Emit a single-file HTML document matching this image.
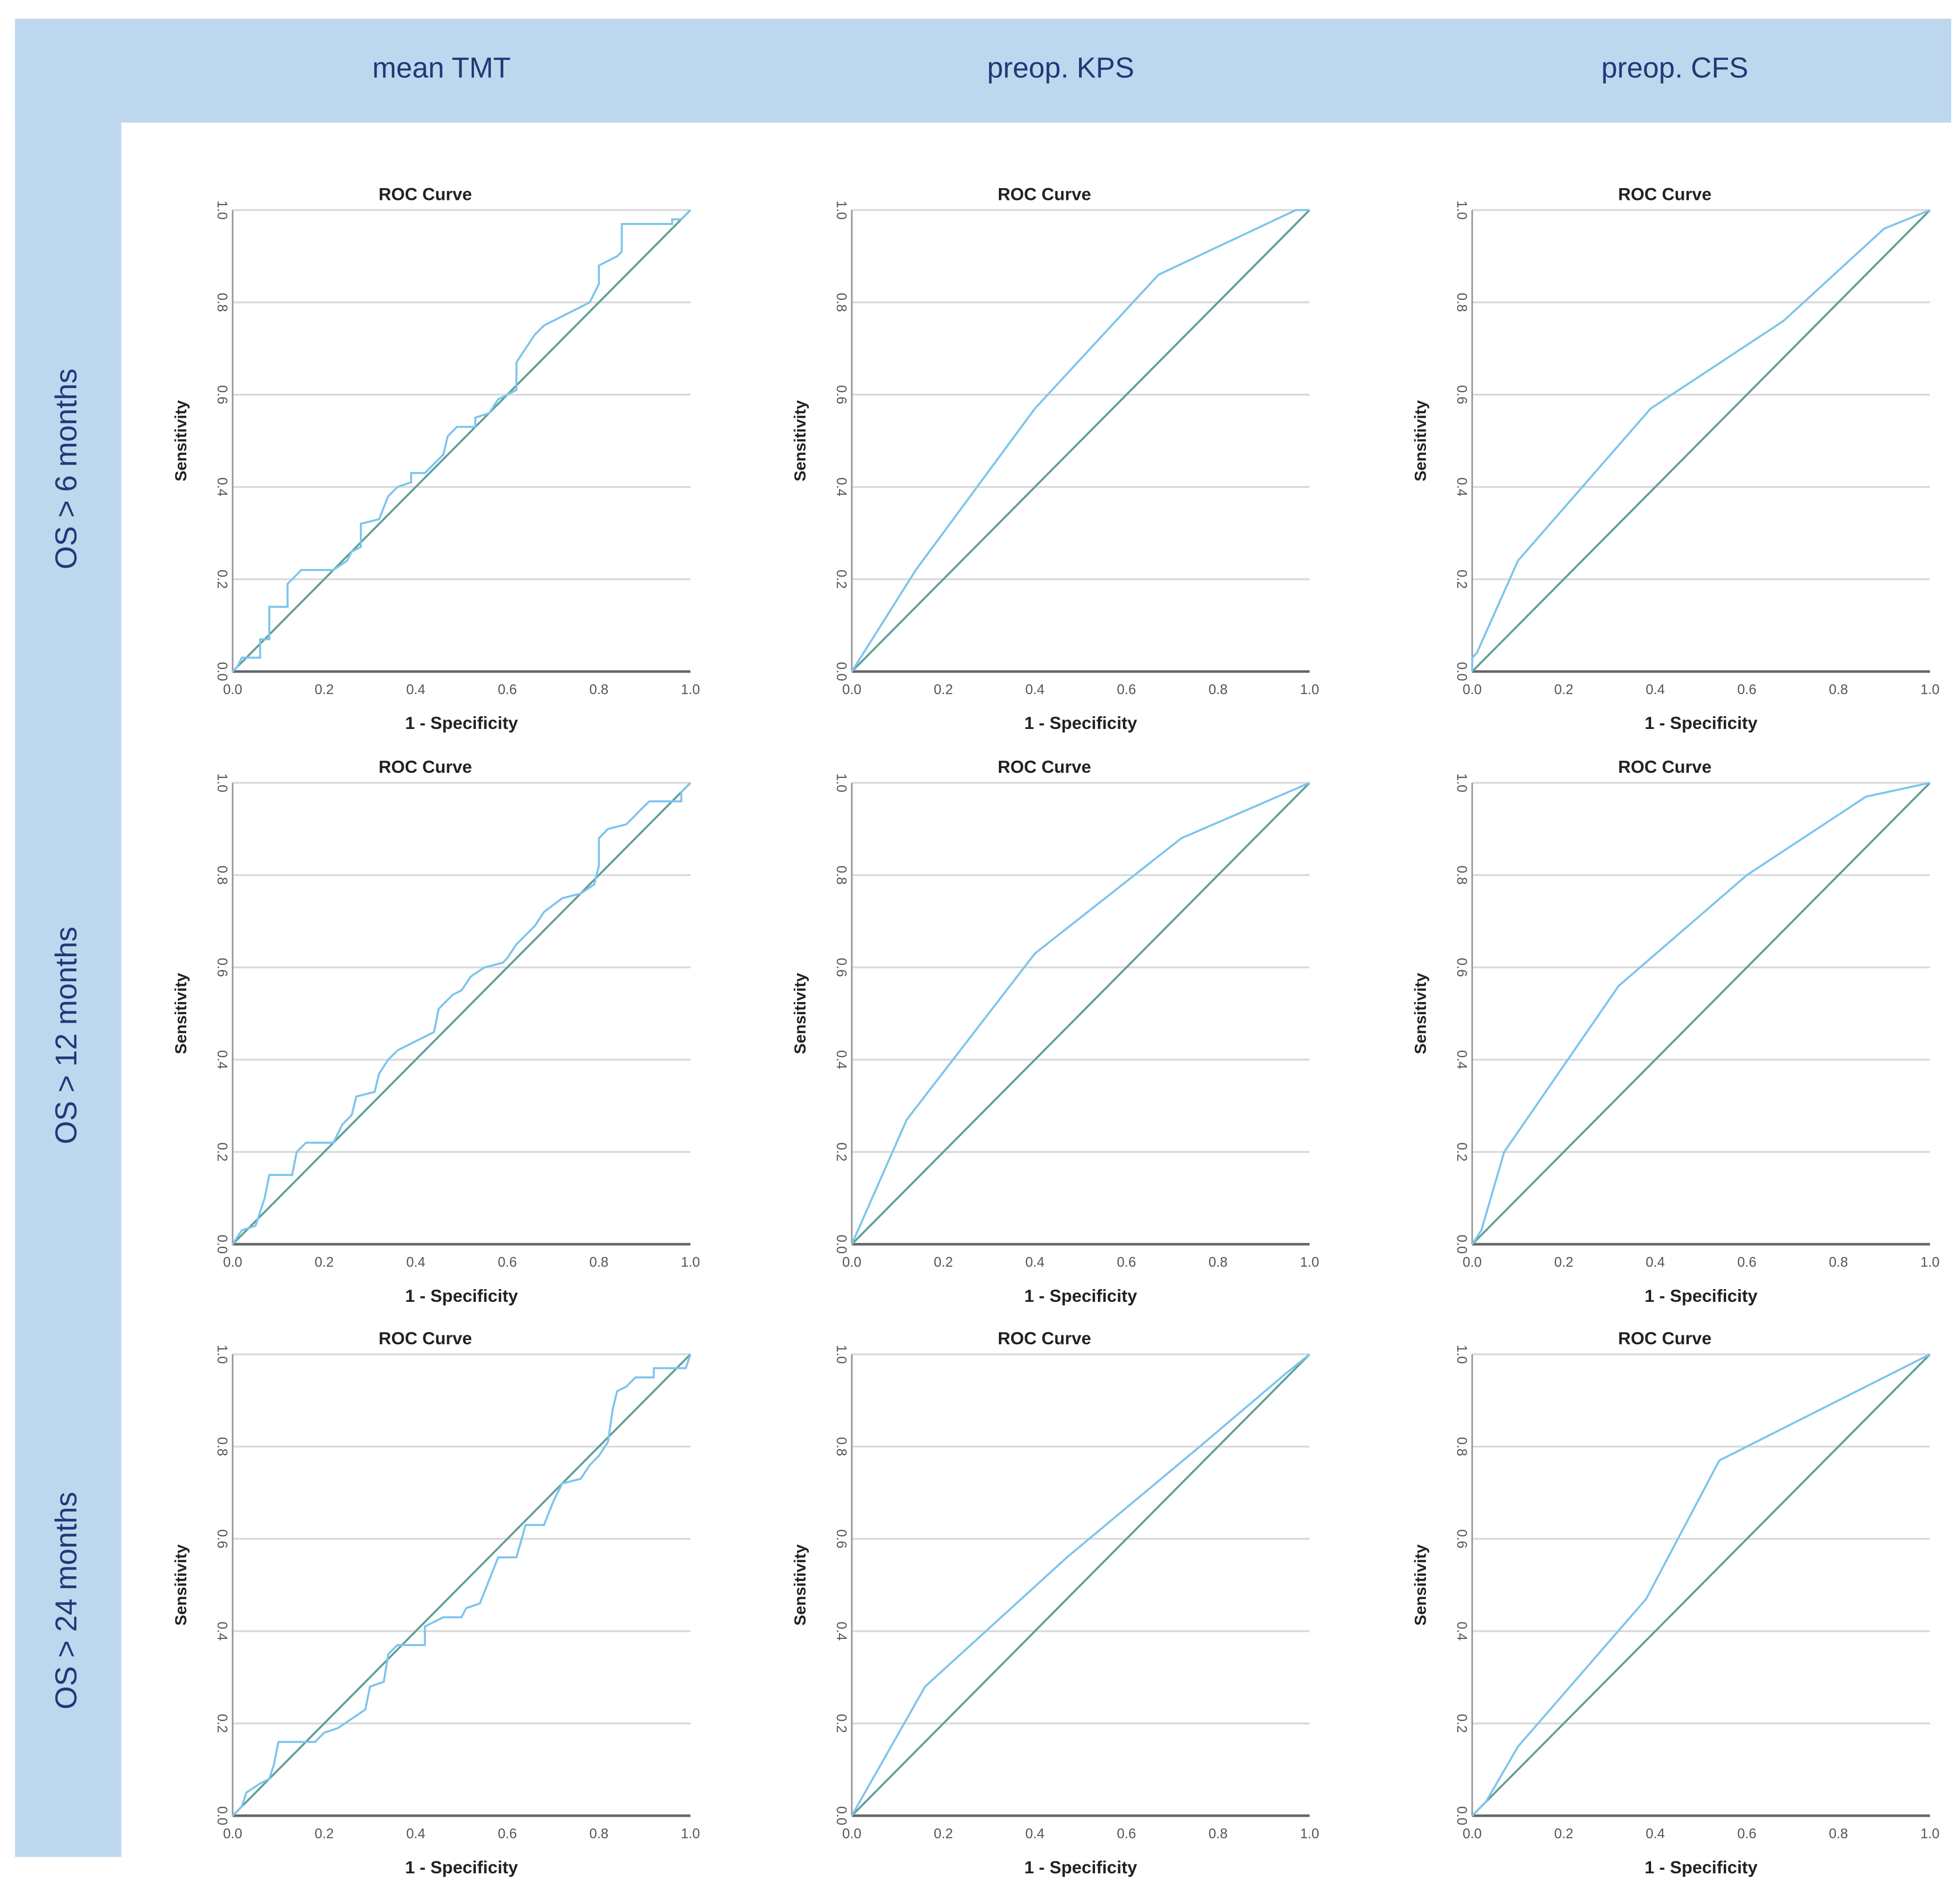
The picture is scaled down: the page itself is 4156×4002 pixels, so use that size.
<!DOCTYPE html>
<html><head><meta charset="utf-8"><style>
html,body{margin:0;padding:0;background:#fff;}
svg{display:block;}
text{font-family:"Liberation Sans",sans-serif;}
</style></head><body>
<svg id="fig" width="4156" height="4002" viewBox="0 0 1567 1509" preserveAspectRatio="none" xmlns="http://www.w3.org/2000/svg">
<rect x="0" y="0" width="1567" height="1509" fill="#ffffff"/>
<rect x="12" y="15" width="1548" height="83" fill="#bdd7ee"/>
<rect x="12" y="15" width="85" height="1470" fill="#bdd7ee"/>
<text x="353" y="62" font-size="23" fill="#1f3a78" text-anchor="middle">mean TMT</text>
<text x="848" y="62" font-size="23" fill="#1f3a78" text-anchor="middle">preop. KPS</text>
<text x="1339" y="62" font-size="23" fill="#1f3a78" text-anchor="middle">preop. CFS</text>
<text transform="translate(61,375) rotate(-90)" font-size="24" fill="#1f3a78" text-anchor="middle">OS &gt; 6 months</text>
<text transform="translate(61,828) rotate(-90)" font-size="24" fill="#1f3a78" text-anchor="middle">OS &gt; 12 months</text>
<text transform="translate(61,1280) rotate(-90)" font-size="24" fill="#1f3a78" text-anchor="middle">OS &gt; 24 months</text>
<g id="plots"></g>
</svg>
<script>
const ticks = [0, 0.2, 0.4, 0.6, 0.8, 1.0];
const tickLabels = ["0.0", "0.2", "0.4", "0.6", "0.8", "1.0"];
const tmt6x = [0,0.01,0.02,0.06,0.06,0.08,0.08,0.12,0.12,0.13,0.15,0.22,0.25,0.26,0.28,0.28,0.32,0.34,0.36,0.39,0.39,0.42,0.46,0.47,0.49,0.53,0.53,0.56,0.58,0.62,0.62,0.64,0.66,0.68,0.72,0.76,0.78,0.8,0.8,0.82,0.84,0.85,0.85,0.96,0.96,0.98,1];
const tmt6y = [0,0.01,0.03,0.03,0.07,0.07,0.14,0.14,0.19,0.2,0.22,0.22,0.24,0.26,0.27,0.32,0.33,0.38,0.4,0.41,0.43,0.43,0.47,0.51,0.53,0.53,0.55,0.56,0.59,0.61,0.67,0.7,0.73,0.75,0.77,0.79,0.8,0.84,0.88,0.89,0.9,0.91,0.97,0.97,0.98,0.98,1];
const tmt12x = [0,0.02,0.05,0.07,0.08,0.13,0.14,0.16,0.22,0.24,0.26,0.27,0.31,0.32,0.34,0.36,0.38,0.42,0.44,0.45,0.48,0.5,0.52,0.55,0.59,0.6,0.62,0.66,0.68,0.72,0.76,0.79,0.8,0.8,0.82,0.86,0.89,0.91,0.98,0.98,1];
const tmt12y = [0,0.03,0.04,0.1,0.15,0.15,0.2,0.22,0.22,0.26,0.28,0.32,0.33,0.37,0.4,0.42,0.43,0.45,0.46,0.51,0.54,0.55,0.58,0.6,0.61,0.62,0.65,0.69,0.72,0.75,0.76,0.78,0.82,0.88,0.9,0.91,0.94,0.96,0.96,0.98,1];
const tmt24x = [0,0.02,0.03,0.06,0.08,0.09,0.1,0.18,0.2,0.23,0.26,0.29,0.3,0.33,0.34,0.36,0.42,0.42,0.46,0.5,0.51,0.54,0.56,0.58,0.62,0.64,0.68,0.7,0.72,0.76,0.78,0.8,0.82,0.83,0.84,0.86,0.88,0.92,0.92,0.99,1];
const tmt24y = [0,0.02,0.05,0.07,0.08,0.11,0.16,0.16,0.18,0.19,0.21,0.23,0.28,0.29,0.35,0.37,0.37,0.41,0.43,0.43,0.45,0.46,0.51,0.56,0.56,0.63,0.63,0.68,0.72,0.73,0.76,0.78,0.81,0.88,0.92,0.93,0.95,0.95,0.97,0.97,1];
const kps6x = [0,0.14,0.4,0.67,0.97,1];
const kps6y = [0,0.22,0.57,0.86,1,1];
const kps12x = [0,0.12,0.4,0.72,1];
const kps12y = [0,0.27,0.63,0.88,1];
const kps24x = [0,0.16,0.47,0.76,0.95,1];
const kps24y = [0,0.28,0.56,0.8,0.96,1];
const cfs6x = [0,0,0.01,0.1,0.39,0.68,0.9,1];
const cfs6y = [0,0.03,0.04,0.24,0.57,0.76,0.96,1];
const cfs12x = [0,0.02,0.07,0.32,0.6,0.86,1];
const cfs12y = [0,0.03,0.2,0.56,0.8,0.97,1];
const cfs24x = [0,0.02,0.03,0.1,0.38,0.54,0.6,1];
const cfs24y = [0,0.02,0.03,0.15,0.47,0.77,0.8,1];

const NS = "http://www.w3.org/2000/svg";
const root = document.getElementById("plots");
const colX = [186, 681, 1177];
const rowY = [168, 626, 1083];
const W = 366, H = 369;
const panels = [
  [tmt6x, tmt6y, 0, 0, "tmt-6"], [kps6x, kps6y, 1, 0, "kps-6"], [cfs6x, cfs6y, 2, 0, "cfs-6"],
  [tmt12x, tmt12y, 0, 1, "tmt-12"], [kps12x, kps12y, 1, 1, "kps-12"], [cfs12x, cfs12y, 2, 1, "cfs-12"],
  [tmt24x, tmt24y, 0, 2, "tmt-24"], [kps24x, kps24y, 1, 2, "kps-24"], [cfs24x, cfs24y, 2, 2, "cfs-24"]
];
function mk(tag, attrs, parent) {
  const e = document.createElementNS(NS, tag);
  for (const k in attrs) e.setAttribute(k, attrs[k]);
  parent.appendChild(e);
  return e;
}
panels.forEach(p => {
  const xs = p[0], ys = p[1], x0 = colX[p[2]], y0 = rowY[p[3]];
  const sx = v => x0 + v * W;
  const sy = v => y0 + H - v * H;
  const g = mk("g", {}, root);
  
  
  const t = mk("text", {x: x0 + W / 2 - 29, y: y0 - 8, "font-size": 14, "font-weight": "bold", fill: "#222", "text-anchor": "middle"}, g);
  t.textContent = "ROC Curve";
  
  
  ticks.forEach((v, i) => {
    if (i > 0) {
      const gl = mk("line", {x1: x0, x2: x0 + W, y1: sy(v), y2: sy(v), stroke: "#d9d9d9", "stroke-width": 1.5}, g);
      
      
    }
    const yl = mk("text", {transform: "translate(" + (x0 - 12) + "," + sy(v) + ") rotate(90)", "font-size": 11, fill: "#555", "text-anchor": "middle"}, g);
    yl.textContent = tickLabels[i];
    
    
    const xl = mk("text", {x: sx(v), y: y0 + H + 18, "font-size": 11, fill: "#555", "text-anchor": "middle"}, g);
    xl.textContent = tickLabels[i];
    
    
  });
  const ya = mk("line", {x1: x0, x2: x0, y1: y0, y2: y0 + H, stroke: "#9a9a9a", "stroke-width": 1.3}, g);
  
  
  const xa = mk("line", {x1: x0, x2: x0 + W, y1: y0 + H, y2: y0 + H, stroke: "#666", "stroke-width": 2}, g);
  
  
  const yt = mk("text", {transform: "translate(" + (x0 - 37) + "," + (y0 + H / 2) + ") rotate(-90)", "font-size": 13, "font-weight": "bold", fill: "#222", "text-anchor": "middle"}, g);
  yt.textContent = "Sensitivity";
  
  
  const xt = mk("text", {x: x0 + W / 2, y: y0 + H + 46, "font-size": 14, "font-weight": "bold", fill: "#222", "text-anchor": "middle"}, g);
  xt.textContent = "1 - Specificity";
  
  
  const ref = mk("line", {x1: sx(0), y1: sy(0), x2: sx(1), y2: sy(1), stroke: "#5f9e96", "stroke-width": 1.6}, g);
  
  
  const pts = xs.map((v, i) => sx(v).toFixed(1) + "," + sy(ys[i]).toFixed(1)).join(" ");
  const c = mk("polyline", {points: pts, fill: "none", stroke: "#7cc4ee", "stroke-width": 1.6}, g);
  
  
});
</script>
</body></html>
